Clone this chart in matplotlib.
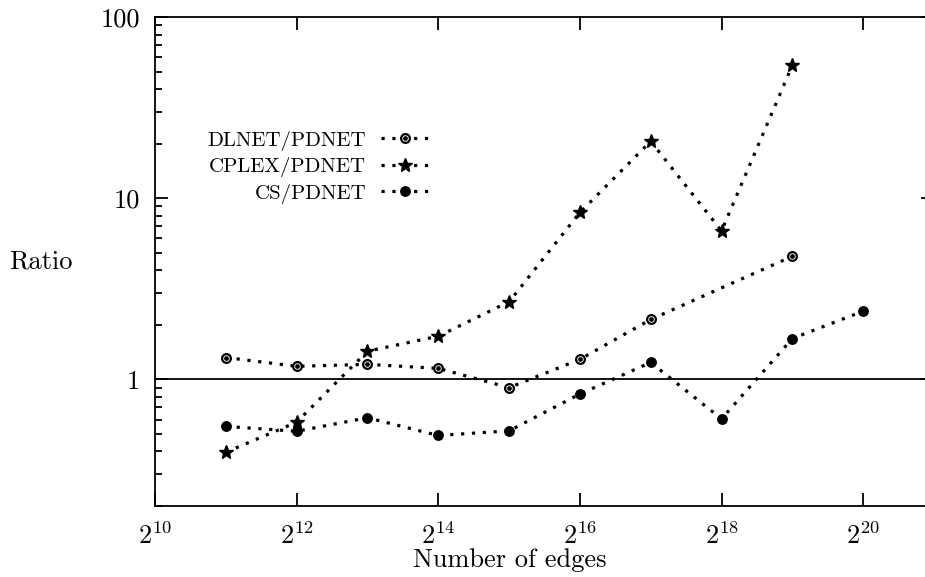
import math
import matplotlib
matplotlib.use("Agg")
import matplotlib.pyplot as plt
from matplotlib.ticker import FixedLocator, FuncFormatter, LogLocator, NullFormatter, NullLocator
from matplotlib.legend_handler import HandlerTuple

# --- DATA ---

DLNET_EXP = [11, 12, 13, 14, 15, 16, 17, 19]
DLNET_RATIO = [1.32, 1.18, 1.21, 1.15, 0.90, 1.29, 2.14, 4.78]

CPLEX_EXP = [11, 12, 13, 14, 15, 16, 17, 18, 19]
CPLEX_RATIO = [0.396, 0.58, 1.43, 1.73, 2.68, 8.34, 20.6, 6.6, 54.2]

CS_EXP = [11, 12, 13, 14, 15, 16, 17, 18, 19, 20]
CS_RATIO = [0.55, 0.517, 0.614, 0.49, 0.52, 0.83, 1.24, 0.605, 1.68, 2.38]

X_TICK_EXP = [10, 12, 14, 16, 18, 20]
Y_TICKS = [1, 10, 100]

LABELS = ["DLNET/PDNET", "CPLEX/PDNET", "CS/PDNET"]

# --- STYLE ---

plt.rcParams["font.family"] = "serif"
plt.rcParams["font.serif"] = ["cmr10", "DejaVu Serif"]
plt.rcParams["mathtext.fontset"] = "cm"
plt.rcParams["axes.formatter.use_mathtext"] = True

DOTS = (0, (1, 2.4))
LW = 2.3

# --- PLOT ---

fig = plt.figure(figsize=(9.25, 5.77), dpi=100)
# right spine sits just past the picture edge, as in the original
ax = fig.add_axes([155 / 925, 71 / 577, 779 / 925, 489 / 577])


def xs(exps):
    return [2.0 ** e for e in exps]


dl_line, = ax.plot(xs(DLNET_EXP), DLNET_RATIO, color="black", lw=LW, linestyle=DOTS,
                   marker="o", ms=6.3, mfc="white", mec="black", mew=1.6)
dl_dot, = ax.plot(xs(DLNET_EXP), DLNET_RATIO, linestyle="none", marker="o", ms=2.4,
                  color="black")
cp_line, = ax.plot(xs(CPLEX_EXP), CPLEX_RATIO, color="black", lw=LW, linestyle=DOTS,
                   marker="*", ms=10, mfc="black", mec="black")
cs_line, = ax.plot(xs(CS_EXP), CS_RATIO, color="black", lw=LW, linestyle=DOTS,
                   marker="o", ms=6.8, mfc="black", mec="black")

ax.axhline(1, color="black", lw=1.3)

ax.set_xscale("log", base=2)
ax.set_yscale("log")
ax.set_xlim(2.0 ** 10, 2.0 ** 21)
ax.set_ylim(0.2, 100)

ax.xaxis.set_major_locator(FixedLocator(xs(X_TICK_EXP)))
ax.xaxis.set_major_formatter(FuncFormatter(lambda v, p: r"$2^{%d}$" % round(math.log2(v))))
ax.xaxis.set_minor_locator(NullLocator())

ax.yaxis.set_major_locator(FixedLocator(Y_TICKS))
ax.yaxis.set_major_formatter(FuncFormatter(lambda v, p: "%g" % v))
ax.yaxis.set_minor_locator(LogLocator(base=10, subs=range(2, 10)))
ax.yaxis.set_minor_formatter(NullFormatter())

for s in ax.spines.values():
    s.set_linewidth(1.3)

ax.tick_params(which="both", direction="in", top=True, right=True, width=1.3, labelsize=19)
ax.tick_params(which="major", length=9.5)
ax.tick_params(which="minor", length=5)
ax.tick_params(axis="y", pad=11)
ax.tick_params(axis="x", pad=12)

ax.set_xlabel("Number of edges", fontsize=19, va="center")
ax.xaxis.set_label_coords(0.456, -0.11)
ax.set_ylabel("Ratio", fontsize=19, rotation=0, ha="center", va="center")
ax.yaxis.set_label_coords(-0.146, 0.5)

ax.legend([(dl_line, dl_dot), cp_line, cs_line], LABELS,
          handler_map={tuple: HandlerTuple(ndivide=1)},
          loc="upper right", bbox_to_anchor=(0.365, 0.789), frameon=False,
          markerfirst=False, fontsize=15, handlelength=2.3, handletextpad=0.72,
          labelspacing=0.31, borderpad=0, numpoints=1)

fig.savefig("out.png", dpi=100)
